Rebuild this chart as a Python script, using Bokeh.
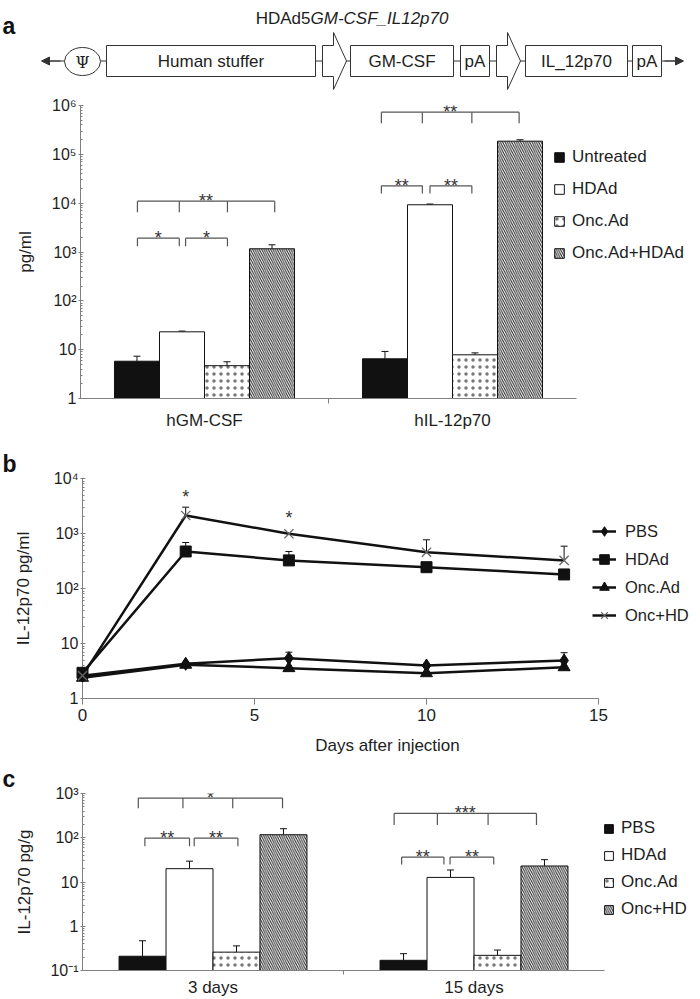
from bokeh.plotting import figure
from bokeh.layouts import column
from bokeh.models import (ColumnDataSource, Range1d, FixedTicker, CustomJSTickFormatter,
                          Whisker, TeeHead, Legend, LegendItem, Title, Arrow, NormalHead)
from bokeh.core.properties import value
from bokeh.embed import file_html
from bokeh.resources import INLINE

FONT = "Liberation Sans"
TXT = "#1e1e1e"
AX = "#808080"
W = 692

# ---------------- data: panel a ----------------
a_groups = ["hGM-CSF", "hIL-12p70"]
a_series = ["Untreated", "HDAd", "Onc.Ad", "Onc.Ad+HDAd"]
a_untreated = [5.8, 6.5]
a_untreated_err = [1.55, 2.7]
a_hdad = [23.2, 9270]
a_hdad_err = [0.8, 330]
a_oncad = [4.7, 7.85]
a_oncad_err = [0.95, 0.75]
a_combo = [1164, 186000]
a_combo_err = [240, 13000]
a_yticks = [1, 10, 100, 1e3, 1e4, 1e5, 1e6]
a_ytick_labels = ["1", "10", "10²", "10³", "10⁴", "10⁵", "10⁶"]
# (group, bar positions, bracket level, leg level, label)
a_brackets = [
    (0, [0.01, 0.94], 1919, 1315, "*"),
    (0, [1.08, 2.01], 1919, 1315, "*"),
    (0, [0.01, 0.94, 2.01, 3.06], 10990, 6540, "**"),
    (1, [-0.08, 0.83], 22700, 15800, "**"),
    (1, [1.0, 1.93], 22700, 15800, "**"),
    (1, [-0.08, 0.83, 1.93, 2.98], 7.3e5, 4.35e5, "**"),
]

# ---------------- data: panel b ----------------
b_days = [0, 3, 6, 10, 14]
b_pbs = [2.6, 4.27, 5.4, 3.98, 4.9]
b_pbs_err = [None, None, 1.55, None, 1.9]
b_hdad = [2.93, 471, 324, 244, 180]
b_hdad_err = [None, 215, 147, None, None]
b_oncad = [2.38, 4.1, 3.56, 2.88, 3.7]
b_oncad_err = [None, None, None, None, None]
b_onchd = [2.6, 2125, 988, 457, 324]
b_onchd_err = [None, 885, None, 311, 264]
b_xticks = [0, 5, 10, 15]
b_yticks = [1, 10, 100, 1e3, 1e4]
b_ytick_labels = ["1", "10", "10²", "10³", "10⁴"]
b_sig_days = [3, 6]
b_sig_levels = [4700, 1900]
b_sig_labels = ["*", "*"]

# ---------------- data: panel c ----------------
c_groups = ["3 days", "15 days"]
c_series = ["PBS", "HDAd", "Onc.Ad", "Onc+HD"]
c_pbs = [0.21, 0.17]
c_pbs_err = [0.26, 0.07]
c_hdad = [20, 12.7]
c_hdad_err = [9.6, 6.0]
c_oncad = [0.26, 0.22]
c_oncad_err = [0.10, 0.07]
c_onchd = [117, 23]
c_onchd_err = [43, 9]
c_yticks = [0.1, 1, 10, 100, 1000]
c_ytick_labels = ["10⁻¹", "1", "10", "10²", "10³"]
c_brackets = [
    (0, [-0.09, 0.86, 1.92, 2.98], 787, 464, "*"),
    (0, [0.05, 1.0], 98.5, 64, "**"),
    (0, [1.1, 2.03], 98.5, 64, "**"),
    (1, [-0.2, 0.72, 1.8, 2.83], 354, 194, "***"),
    (1, [-0.04, 0.86], 36.5, 25, "**"),
    (1, [0.99, 1.92], 36.5, 25, "**"),
]

# ---------------- construct diagram ----------------
construct_boxes = [("Human stuffer", 106, 315), ("GM-CSF", 350, 453), ("pA", 460, 489),
                   ("IL_12p70", 525, 627), ("pA", 632, 661)]
construct_promoters = [(322, 333, 346), (496, 507, 520)]

BAR_STYLES = [
    dict(fill_color="#111111"),
    dict(fill_color="white"),
    dict(fill_color="white", hatch_pattern="dot", hatch_scale=7, hatch_color="#777777", hatch_weight=1),
    dict(fill_color="white", hatch_pattern="left_diagonal_line", hatch_scale=4.5,
         hatch_color="#222222", hatch_weight=1),
]


def label_formatter(vals, labs, uselog):
    return CustomJSTickFormatter(args=dict(vals=vals, labs=labs, uselog=uselog), code="""
        let best = 0, bd = Infinity;
        for (let i = 0; i < vals.length; i++) {
            const d = uselog ? Math.abs(Math.log10(tick) - Math.log10(vals[i])) : Math.abs(tick - vals[i]);
            if (d < bd) { bd = d; best = i; }
        }
        return labs[best];
    """)


def log_minor(vals):
    out = []
    for v in vals[:-1]:
        out += [v * k for k in range(2, 10)]
    return out


def make_fig(height, xr, yr, left, top, bottom):
    p = figure(width=W, height=height, x_range=xr, y_range=yr, y_axis_type="log",
               toolbar_location=None, output_backend="svg", frame_align=False,
               min_border_left=left, min_border_right=0, min_border_top=top, min_border_bottom=bottom)
    p.xgrid.visible = False
    p.ygrid.visible = False
    p.outline_line_color = None
    for ax in p.axis:
        ax.axis_line_color = AX
        ax.major_tick_line_color = AX
        ax.minor_tick_line_color = AX
        ax.major_label_text_font = FONT
        ax.major_label_text_color = TXT
        ax.axis_label_text_font = FONT
        ax.axis_label_text_font_style = "normal"
        ax.axis_label_text_color = TXT
        ax.axis_label_text_font_size = "17px"
    return p


def style_log_y(ax, ticks, labels, std, label):
    ax.ticker = FixedTicker(ticks=ticks, minor_ticks=log_minor(ticks))
    ax.formatter = label_formatter(ticks, labels, True)
    ax.bounds = (ticks[0], ticks[-1])
    ax.major_label_text_font_size = "16px"
    ax.major_tick_in = 3
    ax.major_tick_out = 2
    ax.minor_tick_in = 2
    ax.minor_tick_out = 0
    ax.major_label_standoff = 2
    ax.axis_label_standoff = std
    ax.axis_label = label


def style_cat_x(ax, groups, font_size, tick_out, standoff):
    centers = [i + 0.5 for i in range(len(groups))]
    ax.ticker = FixedTicker(ticks=centers, minor_ticks=[float(i) for i in range(1, len(groups))])
    ax.formatter = label_formatter(centers, groups, False)
    ax.bounds = (0, len(groups))
    ax.major_label_text_font_size = font_size
    ax.major_tick_in = 0
    ax.major_tick_out = 0
    ax.minor_tick_in = 0
    ax.minor_tick_out = tick_out
    ax.major_label_standoff = standoff


def draw_bars(p, ngroups, vals_list, errs_list, w, bottom):
    rs = []
    for i, (vals, errs, st) in enumerate(zip(vals_list, errs_list, BAR_STYLES)):
        xs = [g + 0.5 + (i - 1.5) * w for g in range(ngroups)]
        src = ColumnDataSource(dict(x=xs, top=vals, upper=[v + e for v, e in zip(vals, errs)]))
        r = p.vbar(x="x", top="top", bottom=bottom, width=w, source=src,
                   line_color="#111111", line_width=1, **st)
        p.add_layout(Whisker(base="x", lower="top", upper="upper", source=src, dimension="height",
                             line_color="#111111", line_width=1, lower_head=None,
                             upper_head=TeeHead(size=7, line_color="#111111", line_width=1)))
        rs.append(r)
    return rs


def draw_brackets(p, brackets, w):
    xs, ys, tx, ty, tt = [], [], [], [], []
    for g, pos, y, yl, lab in brackets:
        px = [g + 0.5 + (q - 1.5) * w for q in pos]
        xs.append([px[0], px[-1]])
        ys.append([y, y])
        for q in px:
            xs.append([q, q])
            ys.append([y, yl])
        tx.append((px[0] + px[-1]) / 2)
        ty.append(y)
        tt.append(lab)
    p.multi_line(xs, ys, line_color="#555555", line_width=1.2)
    p.text(tx, ty, text=tt, text_align="center", text_baseline="alphabetic",
           text_font=value(FONT), text_font_size="18px", text_color="#333333")


def make_legend(items, loc, gw, gh, lh, spacing, standoff, fs="17px"):
    return Legend(items=items, location=loc, glyph_width=gw, glyph_height=gh, label_height=lh,
                  spacing=spacing, label_standoff=standoff, padding=0, margin=0,
                  border_line_color=None, background_fill_alpha=0, label_text_font=FONT,
                  label_text_font_size=fs, label_text_color=TXT)


def letter(text, offset):
    return Title(text=text, align="left", offset=offset, standoff=0, vertical_align="top",
                 text_font=FONT, text_font_size="23px", text_font_style="bold", text_color="#111111")


# ---------------- construct figure (canvas pixels as data) ----------------
pd_ = figure(width=W, height=90, x_range=Range1d(0, W), y_range=Range1d(90, 0),
             x_axis_location=None, y_axis_location=None, toolbar_location=None,
             output_backend="svg", frame_align=False, min_border=0, min_border_left=0,
             min_border_right=0, min_border_top=0, min_border_bottom=0)
pd_.xgrid.visible = False
pd_.ygrid.visible = False
pd_.outline_line_color = None
INK = "#333333"
pd_.line([48, 676], [60.5, 60.5], line_color=INK, line_width=1.2)
pd_.add_layout(Arrow(end=NormalHead(size=8, fill_color=INK, line_color=INK),
                     x_start=60, y_start=60.5, x_end=41, y_end=60.5, line_color=INK, line_width=1.2))
pd_.add_layout(Arrow(end=NormalHead(size=8, fill_color=INK, line_color=INK),
                     x_start=664, y_start=60.5, x_end=683, y_end=60.5, line_color=INK, line_width=1.2))
pd_.ellipse(x=[82], y=[61], width=36, height=28, fill_color="white", line_color=INK, line_width=1)
pd_.text([82], [62], text=["Ψ"], text_align="center", text_baseline="middle",
         text_font=value("DejaVu Serif"), text_font_size="16px", text_color=TXT)
pd_.quad(left=[b[1] for b in construct_boxes], right=[b[2] for b in construct_boxes],
         top=45, bottom=76, fill_color="white", line_color=INK, line_width=1)
pd_.text([(b[1] + b[2]) / 2 for b in construct_boxes], [61] * len(construct_boxes),
         text=[b[0] for b in construct_boxes], text_align="center", text_baseline="middle",
         text_font=value(FONT), text_font_size="17px", text_color=TXT)
pd_.patches([[x0, x1, x1, x2, x1, x1, x0] for x0, x1, x2 in construct_promoters],
            [[45, 45, 32, 60.5, 89, 76, 76] for _ in construct_promoters],
            fill_color="white", line_color=INK, line_width=1)
pd_.text([310], [18], text=["HDAd5"], text_align="right", text_baseline="middle",
         text_font=value(FONT), text_font_size="17px", text_color=TXT)
pd_.text([310], [18], text=["GM-CSF_IL12p70"], text_align="left", text_baseline="middle",
         text_font=value(FONT), text_font_size="17px", text_font_style="italic", text_color=TXT)
pd_.text([2], [25], text=["a"], text_align="left", text_baseline="alphabetic",
         text_font=value(FONT), text_font_size="23px", text_font_style="bold", text_color="#111111")

# ---------------- panel a ----------------
WA = 0.1815
pa = make_fig(348, Range1d(0, (W - 80) / 248), Range1d(1, 1e6), 80, 15, 40)
style_log_y(pa.yaxis[0], a_yticks, a_ytick_labels, 14, "pg/ml")
style_cat_x(pa.xaxis[0], a_groups, "17px", 5, 7)
ra = draw_bars(pa, len(a_groups), [a_untreated, a_hdad, a_oncad, a_combo],
               [a_untreated_err, a_hdad_err, a_oncad_err, a_combo_err], WA, 1)
draw_brackets(pa, a_brackets, WA)
pa.add_layout(make_legend([LegendItem(label=n, renderers=[r]) for n, r in zip(a_series, ra)],
                          (473, 135), 12, 12, 20, 12, 7))

# ---------------- panel b ----------------
pb = make_fig(320, Range1d(0, (W - 82) / 34.4), Range1d(1, 1e4), 82, 40, 60)
style_log_y(pb.yaxis[0], b_yticks, b_ytick_labels, 18, "IL-12p70 pg/ml")
xb = pb.xaxis[0]
xb.ticker = FixedTicker(ticks=b_xticks)
xb.bounds = (b_xticks[0], b_xticks[-1])
xb.major_tick_out = 6
xb.major_tick_in = 0
xb.minor_tick_out = 0
xb.minor_tick_in = 0
xb.major_label_standoff = 4
xb.major_label_text_font_size = "17px"
xb.axis_label = "Days after injection"
xb.axis_label_standoff = 12

b_series = [("PBS", b_pbs, b_pbs_err, "diamond", 13, "#111111"),
            ("HDAd", b_hdad, b_hdad_err, "square", 11, "#111111"),
            ("Onc.Ad", b_oncad, b_oncad_err, "triangle", 12, "#111111"),
            ("Onc+HD", b_onchd, b_onchd_err, "x", 13, "#666666")]
b_items = []
for name, vals, errs, marker, size, col in b_series:
    lr = pb.line(b_days, vals, line_color="#111111", line_width=2.5)
    keep = [i for i, e in enumerate(errs) if e is not None]
    if keep:
        esrc = ColumnDataSource(dict(x=[b_days[i] for i in keep], lo=[vals[i] for i in keep],
                                     hi=[vals[i] + errs[i] for i in keep]))
        pb.add_layout(Whisker(base="x", lower="lo", upper="hi", source=esrc, dimension="height",
                              line_color="#111111", line_width=1, lower_head=None,
                              upper_head=TeeHead(size=7, line_color="#111111", line_width=1)))
    if marker == "x":
        sr = pb.scatter(b_days, vals, marker=marker, size=size, line_color=col, line_width=1.3,
                        level="overlay")
    else:
        sr = pb.scatter(b_days, vals, marker=marker, size=size, fill_color=col, line_color=col,
                        level="overlay")
    b_items.append(LegendItem(label=name, renderers=[lr, sr]))
pb.text(b_sig_days, b_sig_levels, text=b_sig_labels, text_align="center", text_baseline="alphabetic",
        text_font=value(FONT), text_font_size="18px", text_color="#333333")
pb.add_layout(make_legend(b_items, (510, 70), 24, 26, 26, 2, 9, "16.5px"))
pb.title = letter("b", -80)

# ---------------- panel c ----------------
WC = 0.18
pc = make_fig(241, Range1d(0, (W - 82) / 261), Range1d(0.1, 1000), 82, 35, 26)
style_log_y(pc.yaxis[0], c_yticks, c_ytick_labels, 13, "IL-12p70 pg/g")
style_cat_x(pc.xaxis[0], c_groups, "17px", 4, 3)
rc = draw_bars(pc, len(c_groups), [c_pbs, c_hdad, c_oncad, c_onchd],
               [c_pbs_err, c_hdad_err, c_oncad_err, c_onchd_err], WC, 0.1)
draw_brackets(pc, c_brackets, WC)
pc.add_layout(make_legend([LegendItem(label=n, renderers=[r]) for n, r in zip(c_series, rc)],
                          (521, 51), 11, 11, 20, 7, 7))
pc.title = letter("c", -80)

layout = column(pd_, pa, pb, pc)
open("out.html", "w").write(file_html(layout, INLINE))
